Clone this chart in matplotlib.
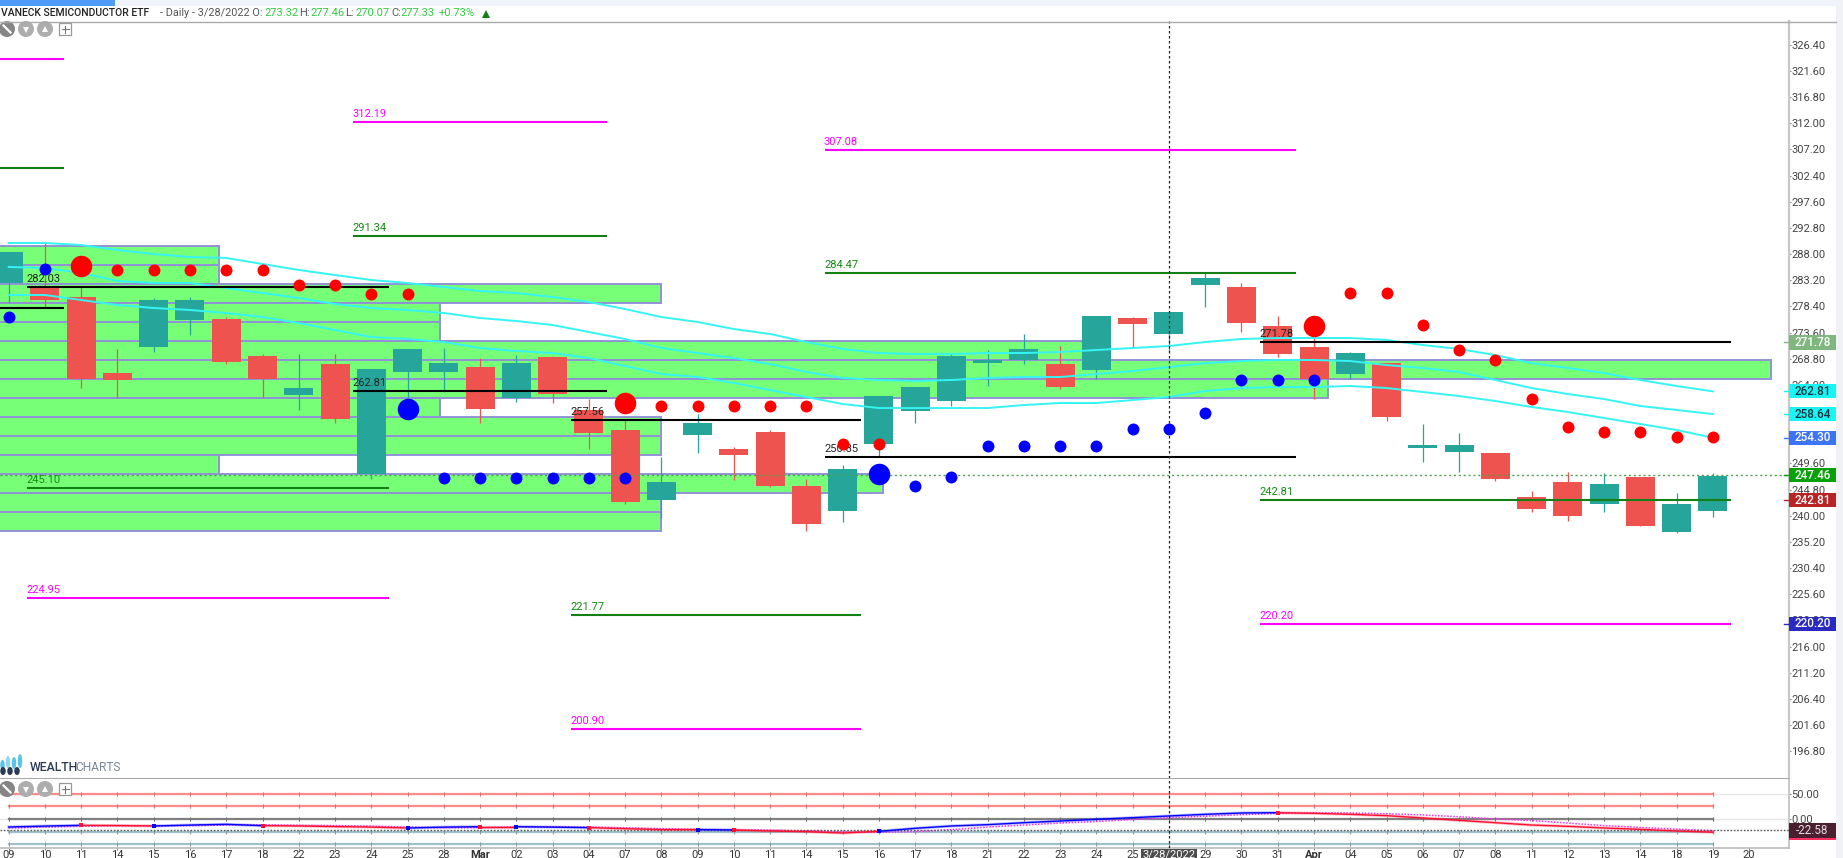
import matplotlib
matplotlib.use("Agg")
import matplotlib.pyplot as plt
from matplotlib.patches import Rectangle, Circle, Ellipse

plt.rcParams['font.family'] = ['Roboto', 'DejaVu Sans']

#candles, one per bar
opens = [282.68, 281.95, 280.11, 266.17, 270.94, 275.89, 276.08, 269.29, 262.14, 267.82, 247.65, 266.36,
         266.36, 267.27, 261.59, 269.11, 259.39, 255.72, 242.88, 254.80, 252.23, 255.35, 245.45, 240.86,
         253.15, 259.20, 261.04, 268.00, 268.56, 267.82, 266.72, 276.26, 273.32, 282.31, 281.95, 274.79,
         270.94, 265.99, 268.00, 252.42, 251.68, 251.50, 243.43, 246.18, 242.15, 247.10, 237.01, 240.86]
highs = [288.37, 290.20, 281.95, 270.58, 279.93, 280.11, 276.44, 269.66, 269.66, 269.66, 266.91, 270.58,
         270.76, 268.92, 269.47, 269.29, 261.41, 257.55, 250.77, 258.65, 252.60, 255.72, 246.73, 249.30,
         261.95, 263.60, 269.84, 270.39, 273.33, 271.13, 276.63, 276.44, 277.46, 284.51, 282.68, 276.63,
         272.78, 270.03, 268.00, 256.82, 255.17, 251.50, 244.53, 248.01, 247.83, 247.10, 244.16, 247.83]
lows = [279.01, 278.28, 263.42, 261.59, 270.03, 273.14, 267.82, 261.59, 259.39, 257.00, 246.73, 261.59,
        262.69, 257.00, 260.85, 260.67, 252.23, 242.15, 239.58, 251.50, 246.55, 245.26, 237.19, 238.84,
        250.77, 257.00, 260.12, 263.79, 267.82, 263.24, 265.07, 270.76, 270.07, 278.28, 273.69, 269.11,
        261.41, 265.07, 257.37, 249.85, 248.01, 246.36, 240.68, 239.03, 240.68, 238.11, 236.83, 239.76]
closes = [288.37, 279.56, 265.07, 264.89, 279.56, 279.56, 268.19, 265.07, 263.42, 257.74, 266.91, 270.58,
          268.00, 259.57, 268.00, 262.32, 255.17, 242.51, 246.18, 257.00, 251.13, 245.45, 238.48, 248.56,
          261.95, 263.60, 269.29, 268.56, 270.58, 263.60, 276.63, 275.16, 277.33, 283.60, 275.34, 269.66,
          265.07, 269.84, 258.10, 252.97, 252.97, 246.73, 241.23, 239.94, 245.81, 238.11, 242.15, 247.28]

#the three cyan bands
band_upper = [290.02, 290.02, 289.65, 288.73, 288.00, 287.45, 287.27, 286.17, 285.07, 284.15, 283.23, 282.68,
              281.95, 281.21, 280.85, 280.11, 279.20, 277.91, 276.44, 275.53, 274.24, 273.33, 271.86, 270.58,
              269.84, 269.66, 269.66, 269.84, 269.84, 270.03, 270.39, 270.76, 271.13, 271.86, 272.41, 272.59,
              272.59, 272.59, 272.23, 271.31, 270.58, 269.47, 268.00, 267.09, 266.17, 264.89, 263.79, 262.81]
band_mid = [285.62, 285.43, 284.52, 283.05, 282.68, 282.68, 281.76, 280.85, 279.93, 278.83, 278.10, 277.73,
            277.18, 276.26, 275.71, 274.98, 273.69, 272.41, 270.76, 269.84, 268.92, 267.82, 266.36, 265.26,
            264.89, 264.71, 264.89, 265.26, 265.44, 265.44, 265.99, 266.54, 267.27, 268.00, 268.37, 268.56,
            268.56, 268.37, 267.64, 267.09, 266.36, 264.89, 263.42, 262.32, 261.40, 260.12, 259.39, 258.64]
band_lower = [280.48, 280.48, 279.56, 278.65, 278.10, 277.73, 277.18, 276.44, 275.34, 274.06, 272.78, 272.41,
              271.86, 270.76, 270.21, 269.84, 268.92, 267.46, 265.99, 265.44, 264.34, 263.05, 261.77, 260.49,
              259.75, 259.75, 259.75, 259.75, 260.30, 260.67, 260.67, 261.22, 261.77, 262.87, 263.42, 263.60,
              263.60, 263.79, 263.42, 262.69, 261.95, 261.04, 259.94, 259.02, 257.92, 256.82, 255.72, 254.30]

#green zone rows, end is in bars
zone_low = [285.98, 282.50, 279.01, 275.53, 272.04, 268.56, 265.07, 261.59, 258.10, 254.62, 251.13, 247.65,
            244.16, 240.68, 237.19]
zone_high = [289.47, 285.98, 282.50, 279.01, 275.53, 272.04, 268.56, 265.07, 261.59, 258.10, 254.62, 251.13,
             247.65, 244.16, 240.68]
zone_end = [5.79, 5.79, 18.0, 11.9, 11.9, 30.0, 48.6, 36.38, 11.9, 18.0, 18.0, 5.79, 24.1, 18.0, 18.0]

#pivot levels per period
level_start = [-1.5, 0.5, 9.5, 15.5, 22.5, 34.5]
level_end = [1.53, 10.5, 16.5, 23.5, 35.5, 47.5]
level_magenta = [323.77, 224.95, 312.19, 200.90, 307.08, 220.20]
level_green = [303.77, 245.10, 291.34, 221.77, 284.47, 242.81]
level_black = [278.10, 282.03, 262.81, 257.56, 250.85, 271.78]

#signal dots
red_small_x = [3, 4, 5, 6, 7, 8, 9, 10, 11, 18, 19, 20, 21, 22, 23, 24, 37, 38, 39, 40, 41, 42, 43, 44, 45, 46, 47]
red_small_y = [285.07, 285.07, 285.07, 285.07, 285.07, 282.31, 282.31, 280.66, 280.66, 260.12, 260.12, 260.12,
               260.12, 260.12, 253.15, 253.15, 280.85, 280.85, 274.98, 270.39, 268.56, 261.40, 256.27, 255.35,
               255.35, 254.43, 254.43]
red_big_x = [2, 17, 36]
red_big_y = [285.80, 260.67, 274.79]
blue_small_x = [0, 1, 12, 13, 14, 15, 16, 17, 25, 26, 27, 28, 29, 30, 31, 32, 33, 34, 35, 36]
blue_small_y = [276.44, 285.25, 246.92, 246.92, 246.92, 246.92, 246.92, 246.92, 245.45, 247.10, 252.78, 252.78,
                252.78, 252.78, 255.90, 255.90, 258.84, 264.89, 264.89, 264.89]
blue_big_x = [11, 24]
blue_big_y = [259.57, 247.65]

#oscillator panel
osc = [-15.8, -14.0, -12.5, -13.0, -13.8, -12.0, -10.5, -13.2, -13.8, -15.0, -16.0, -17.8, -16.0, -15.2, -15.2,
       -16.0, -17.1, -19.1, -21.0, -21.0, -21.7, -23.7, -25.0, -27.7, -24.4, -18.4, -13.8, -11.2, -7.3, -4.0,
       -0.7, 2.6, 6.0, 9.2, 11.9, 12.5, 11.2, 9.2, 6.6, 2.0, -2.7, -7.3, -11.9, -14.5, -17.8, -20.4, -23.7, -26.0]
signal = [-18.0, -16.0, -14.5, -13.0, -13.5, -13.0, -12.0, -11.5, -12.5, -13.0, -14.0, -16.0, -17.5, -17.0, -15.5,
          -15.5, -16.0, -17.5, -19.0, -20.5, -21.5, -22.0, -23.5, -25.5, -26.5, -25.0, -21.0, -16.0, -12.0, -8.0,
          -5.0, -1.0, 2.5, 5.5, 8.5, 11.0, 12.0, 12.0, 10.5, 8.0, 4.5, 0.0, -3.0, -8.0, -13.0, -16.5, -20.0, -23.0]
osc_flip_x = [2, 4, 7, 11, 13, 14, 16, 19, 20, 24, 35]
osc_flip_color = ["red", "blue", "red", "blue", "red", "blue", "red", "blue", "red", "blue", "red"]
osc_levels = [50, 25, 0, -25, -50]
osc_level_colors = ["#ff8a8a", "#ff8a8a", "#808080", "#9fc0c8", "#9fc0c8"]

#axis labels
date_labels = ["09", "10", "11", "14", "15", "16", "17", "18", "22", "23", "24", "25", "28", "Mar", "02", "03", "04",
               "07", "08", "09", "10", "11", "14", "15", "16", "17", "18", "21", "22", "23", "24", "25", "28", "29",
               "30", "31", "Apr", "04", "05", "06", "07", "08", "11", "12", "13", "14", "18", "19", "20"]
price_ticks = [196.8, 201.6, 206.4, 211.2, 216.0, 220.8, 225.6, 230.4, 235.2, 240.0, 244.8, 249.6, 254.4, 259.2,
               264.0, 268.8, 273.6, 278.4, 283.2, 288.0, 292.8, 297.6, 302.4, 307.2, 312.0, 316.8, 321.6, 326.4]
tag_values = [271.78, 262.81, 258.64, 254.30, 247.46, 242.81, 220.20]
tag_colors = ["#7fb77f", "#19f5f5", "#19f5f5", "#3d74f5", "#0aa00a", "#b92525", "#2a2ac0"]
tag_text_colors = ["white", "#10323a", "#10323a", "white", "white", "white", "white"]
last_high = 247.46
osc_last = -22.58

W, H = 1843, 858
TEAL, RED = "#26a69a", "#ef5350"
TEXT_SIZE = 8.0

fig = plt.figure(figsize=(W / 100, H / 100), dpi=100)
fig.patch.set_facecolor("white")

#pixel layout of the two panels
ax = fig.add_axes([0, 1 - 778 / H, 1789 / W, (778 - 21) / H])
ax2 = fig.add_axes([0, 1 - 848 / H, 1789 / W, (848 - 778) / H])
x_limits = (-0.24, 49.1)
bars = list(range(len(opens)))

#green zones first so everything sits on top
widths = [e + 1 for e in zone_end]
heights = [t - b for t, b in zip(zone_high, zone_low)]
ax.barh(zone_low, widths, height=heights, left=-1, align="edge", color="#78ff78", edgecolor="#9292d6",
        linewidth=1.4, zorder=1)

#candles
candle_colors = [TEAL if c >= o else RED for o, c in zip(opens, closes)]
ax.vlines(bars, lows, highs, colors=candle_colors, linewidth=0.9, zorder=2)
body_low = [min(o, c) for o, c in zip(opens, closes)]
body_size = [abs(c - o) for o, c in zip(opens, closes)]
ax.bar(bars, body_size, bottom=body_low, width=0.8, color=candle_colors, zorder=2.1)

for band in [band_upper, band_mid, band_lower]:
    ax.plot(bars, band, color="#35f4f4", linewidth=1.4, zorder=3)

#pivot levels and their labels
for values, col, text_col in [(level_magenta, "#ff00ff", "#ff00ff"), (level_green, "#128012", "#128a12"),
                              (level_black, "black", "#222222")]:
    ax.hlines(values, level_start, level_end, colors=col, linewidth=1.5, zorder=3.2)
    for s, v in zip(level_start, values):
        ax.annotate("%.2f" % v, (s, v), xytext=(-0.4, 3.6), textcoords="offset points", fontsize=TEXT_SIZE,
                    color=text_col, va="baseline", ha="left", zorder=3.5)

ax.axhline(last_high, color="#4fa04f", linewidth=1, linestyle=(0, (1.5, 2)), zorder=3.3)
ax.axvline(32, color="#222222", linewidth=0.9, linestyle=(0, (2, 2)), zorder=3.3)

#dots
ax.plot(red_small_x, red_small_y, "o", color="#ff0000", markersize=8.6, markeredgewidth=0, zorder=4)
ax.plot(red_big_x, red_big_y, "o", color="#ff0000", markersize=15.5, markeredgewidth=0, zorder=4)
ax.plot(blue_small_x, blue_small_y, "o", color="#0000ff", markersize=8.6, markeredgewidth=0, zorder=4)
ax.plot(blue_big_x, blue_big_y, "o", color="#0000ff", markersize=15.5, markeredgewidth=0, zorder=4)

#price axis
ax.set_xlim(x_limits)
ax.set_ylim(191.89, 330.74)
ax.xaxis.set_visible(False)
ax.yaxis.tick_right()
ax.set_yticks(price_ticks)
ax.set_yticklabels(["%.2f" % p for p in price_ticks])
ax.tick_params(axis="y", length=1.6, width=0.8, color="#888888", labelsize=TEXT_SIZE, labelcolor="#444444", pad=0.2)
for side in ["left", "top", "bottom"]:
    ax.spines[side].set_visible(False)
ax.spines["right"].set_color("#c8c8c8")
ax.spines["right"].set_linewidth(1.6)

#price tags over the axis labels
tag_trans = ax.get_yaxis_transform()
for v, col, tcol in zip(tag_values, tag_colors, tag_text_colors):
    ax.add_patch(Rectangle((1.0, v - 1.3), 47 / 1789, 2.6, transform=tag_trans, clip_on=False, facecolor=col,
                           edgecolor="none", zorder=6))
    ax.plot([0.9972, 1.0], [v, v], transform=tag_trans, clip_on=False, color=col, linewidth=1, zorder=6)
    ax.text(1.0131, v, "%.2f" % v, transform=tag_trans, color=tcol, fontsize=8.4, fontweight="medium",
            ha="center", va="center", zorder=7, clip_on=False)

#oscillator panel
ax2.axhline(50, color="#e6e6e6", linewidth=1, zorder=1)
ax2.axhline(0, color="#e6e6e6", linewidth=1, zorder=1)
for lev, col in zip(osc_levels, osc_level_colors):
    ax2.plot([bars[0], bars[-1]], [lev, lev], color=col, linewidth=1.6, zorder=2)
    ax2.plot(bars, [lev] * len(bars), "|", color=col, markersize=3, markeredgewidth=0.8, zorder=2)
    ax2.plot(bars, [lev] * len(bars), "|", color="#555555", alpha=0.4, markersize=3, markeredgewidth=0.6, zorder=2)

ax2.plot(bars, signal, color="#ff30ff", linewidth=1.1, linestyle=(0, (1, 1)), zorder=3)

#osc line changes colour at each flip, with a pale shadow under it
starts = [0] + osc_flip_x
ends = osc_flip_x + [bars[-1]]
cols = ["blue"] + osc_flip_color
for s, e, col in zip(starts, ends, cols):
    line_col = "#0000ff" if col == "blue" else "#ff1030"
    ax2.plot(bars[s:e + 1], osc[s:e + 1], color=line_col, linewidth=2.2, alpha=0.25, zorder=3.8)
    ax2.plot(bars[s:e + 1], osc[s:e + 1], color=line_col, linewidth=1.0, zorder=4)
    if s > 0:
        ax2.plot([s], [osc[s]], "s", color=line_col, markersize=3.2, markeredgewidth=0, zorder=5)

ax2.axhline(osc_last, color="#555555", linewidth=1, linestyle=(0, (1.2, 1.2)), zorder=3.5)
ax2.axvline(32, color="#222222", linewidth=0.9, linestyle=(0, (2, 2)), zorder=3.3)

ax2.set_xlim(x_limits)
ax2.set_ylim(-57.3, 81.0)
ax2.set_xticks(list(range(len(date_labels))))
ax2.set_xticklabels(date_labels)
for lab, name in zip(ax2.get_xticklabels(), date_labels):
    if name in ["Mar", "Apr"]:
        lab.set_fontweight("bold")
ax2.tick_params(axis="x", length=1.2, width=0.7, color="#777777", labelsize=TEXT_SIZE, labelcolor="#333333", pad=0.1)
ax2.yaxis.tick_right()
ax2.set_yticks([50, 0])
ax2.set_yticklabels(["50.00", "0.00"])
ax2.tick_params(axis="y", length=1.6, width=0.8, color="#888888", labelsize=TEXT_SIZE, labelcolor="#444444", pad=0.2)
ax2.spines["left"].set_visible(False)
ax2.spines["top"].set_color("#aaaaaa")
ax2.spines["bottom"].set_color("#bbbbbb")
ax2.spines["right"].set_color("#c8c8c8")
ax2.spines["right"].set_linewidth(1.4)
ax2.spines["bottom"].set_linewidth(1.2)

#overlay in plain pixels for the header, toolbars, logo and tags
top = fig.add_axes([0, 0, 1, 1], zorder=10)
top.set_xlim(0, W)
top.set_ylim(H, 0)
top.axis("off")
top.patch.set_alpha(0)

top.add_patch(Rectangle((0, 0), W, 6, facecolor="#f0f3fa", edgecolor="none"))
top.add_patch(Rectangle((0, 0), 115, 6, facecolor="#4f9bf5", edgecolor="none"))
top.add_patch(Rectangle((1836, 0), 7, H, facecolor="#f0f2f6", edgecolor="none"))
top.plot([0, 1836], [21.5, 21.5], color="#aaaaaa", linewidth=1)

#header, pieces placed by hand so the colours line up
header = [(1, "VANECK SEMICONDUCTOR ETF", "#222222", "medium", 7.5), (160, "- Daily - 3/28/2022 O:", "#555555", "normal", 7.8),
          (264, "273.32", "#2ecc40", "normal", 8), (299, "H:", "#555555", "normal", 8),
          (310, "277.46", "#2ecc40", "normal", 8), (345, "L:", "#555555", "normal", 8),
          (355, "270.07", "#2ecc40", "normal", 8), (391, "C:", "#555555", "normal", 8),
          (400, "277.33", "#2ecc40", "normal", 8), (439, "+0.73%", "#2ecc40", "normal", 8)]
for hx, txt, col, wt, sz in header:
    top.text(hx, 12.5, txt, color=col, fontsize=sz, fontweight=wt, va="center", ha="left")
top.plot([486], [13.5], "^", color="#128012", markersize=5.5, markeredgewidth=0)


def toolbar(y):
    top.add_patch(Circle((7, y), 8, facecolor="#858585", edgecolor="none"))
    top.plot([3.5, 10.5], [y - 3.5, y + 3.5], color="white", linewidth=1.6)
    top.add_patch(Circle((26, y), 8, facecolor="#adadad", edgecolor="none"))
    top.plot([26], [y + 0.5], "v", color="white", markersize=5, markeredgewidth=0)
    top.add_patch(Circle((45, y), 8, facecolor="#adadad", edgecolor="none"))
    top.plot([45], [y - 0.5], "^", color="white", markersize=5, markeredgewidth=0)
    top.add_patch(Rectangle((59, y - 6), 12, 12, facecolor="white", edgecolor="#999999", linewidth=0.9))
    top.plot([61.5, 68.5], [y, y], color="#777777", linewidth=0.8)
    top.plot([65, 65], [y - 3.5, y + 3.5], color="#777777", linewidth=0.8)


toolbar(29)
toolbar(789)

#logo
for lx, ly, lh, col in [(2.5, 765, 10, "#5cc3e8"), (8, 762, 12, "#8fd6ee"), (14, 763, 12, "#5cc3e8"), (20, 761, 14, "#5cc3e8")]:
    top.add_patch(Ellipse((lx, ly), 4.5, lh, facecolor=col, edgecolor="none"))
for lx in [3, 10, 17]:
    top.add_patch(Ellipse((lx, 771), 5.5, 8, facecolor="#2b3a55", edgecolor="none"))
top.text(30, 767.5, "WEALTH", color="#2b3a55", fontsize=8.8, fontweight="medium", va="center", ha="left")
top.text(75, 767.5, "CHARTS", color="#7a8798", fontsize=8.6, va="center", ha="left")

#crosshair date tag and oscillator tag
top.add_patch(Rectangle((1141, 848.5), 56, 10, facecolor="#4d4d4d", edgecolor="none"))
top.text(1169, 854.5, "3/28/2022", color="white", fontsize=TEXT_SIZE, ha="center", va="center")
top.add_patch(Rectangle((1789, 823), 47, 16, facecolor="#4a2030", edgecolor="none"))
top.add_patch(Rectangle((1789, 837.5), 47, 2, facecolor="#ff3060", edgecolor="none"))
top.text(1812, 830.5, "%.2f" % osc_last, color="#e8dfe2", fontsize=8.4, ha="center", va="center")

fig.savefig("out.png", dpi=100)
